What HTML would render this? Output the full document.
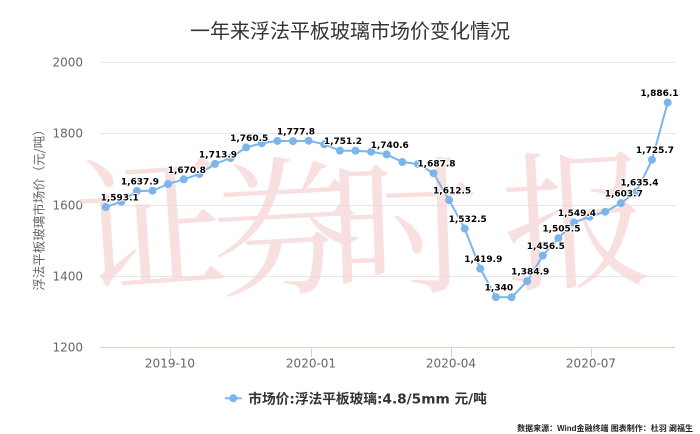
<!DOCTYPE html>
<html>
<head>
<meta charset="utf-8">
<style>
  html, body { margin:0; padding:0; background:#fff; }
  body { width:700px; height:434px; overflow:hidden; }
  svg { display:block; }
  .ax { font-family:"DejaVu Sans","Liberation Sans",sans-serif; font-size:12px; fill:#666; }
  .dl { font-family:"DejaVu Sans","Liberation Sans",sans-serif; font-size:9px; font-weight:bold; fill:#000; stroke:#fff; stroke-width:2px; stroke-linejoin:round; paint-order:stroke; text-anchor:middle; }
  .wm { font-family:"Noto Serif CJK SC","WenQuanYi Zen Hei",serif; font-size:150px; font-weight:normal; fill:#f8d6d6; text-anchor:middle; }
</style>
</head>
<body>
<svg width="700" height="434" viewBox="0 0 700 434" xmlns="http://www.w3.org/2000/svg">
  <rect x="0" y="0" width="700" height="434" fill="#fff"/>

  <!-- title -->
  <text x="350" y="38" text-anchor="middle" font-family="'Liberation Sans','Noto Sans CJK SC',sans-serif" font-size="20" fill="#333">一年来浮法平板玻璃市场价变化情况</text>

  <!-- gridlines -->
  <g stroke="#e6e6e6" stroke-width="1">
    <line x1="100" y1="62.5" x2="676" y2="62.5"/>
    <line x1="100" y1="133.5" x2="676" y2="133.5"/>
    <line x1="100" y1="205.5" x2="676" y2="205.5"/>
    <line x1="100" y1="276.5" x2="676" y2="276.5"/>
  </g>
  <!-- x axis -->
  <line x1="100" y1="347.5" x2="675" y2="347.5" stroke="#ccd6eb" stroke-width="1"/>
  <g stroke="#ccd6eb" stroke-width="1">
    <line x1="170.5" y1="347" x2="170.5" y2="357"/>
    <line x1="311.5" y1="347" x2="311.5" y2="357"/>
    <line x1="451.5" y1="347" x2="451.5" y2="357"/>
    <line x1="591.5" y1="347" x2="591.5" y2="357"/>
  </g>

  <!-- y labels -->
  <g class="ax" text-anchor="end">
    <text x="83" y="66.5">2000</text>
    <text x="83" y="137.5">1800</text>
    <text x="83" y="209.5">1600</text>
    <text x="83" y="280.5">1400</text>
    <text x="83" y="351.5">1200</text>
  </g>
  <!-- x labels -->
  <g class="ax" text-anchor="middle">
    <text x="170" y="367.7">2019-10</text>
    <text x="311" y="367.7">2020-01</text>
    <text x="451" y="367.7">2020-04</text>
    <text x="591" y="367.7">2020-07</text>
  </g>

  <!-- y axis title -->
  <text transform="translate(39,207) rotate(-90)" y="4.7" text-anchor="middle" font-family="'Noto Sans CJK SC',sans-serif" font-size="12.5" fill="#666">浮法平板玻璃市场价（元/吨）</text>

  <!-- watermark (under chart, multiply) -->
  <g opacity="0.75">
    <text class="wm" x="151" y="280" transform="rotate(-4 151 222)">证</text>
    <text class="wm" x="286" y="282" transform="rotate(-3 286 225)">券</text>
    <text class="wm" x="404" y="282" font-size="120" transform="rotate(-2 404 230)">时</text>
    <text class="wm" x="577" y="276" transform="rotate(-3 577 218)">报</text>
  </g>

  <!-- series -->
  <polyline fill="none" stroke="#7cb5ec" stroke-width="2" stroke-linejoin="round" stroke-linecap="round"
    points="105.7,206.96 121.3,201.69 136.9,191.0 152.5,190.7 168.1,184.0 183.8,179.28 199.4,174.0 215.0,163.92 230.6,158.0 246.2,147.32 261.8,143.3 277.4,140.9 293.0,141.16 308.6,140.7 324.2,144.3 339.9,150.63 355.5,150.7 371.1,151.7 386.7,154.41 402.3,162 417.9,164 433.5,173.22 449.1,200.05 464.7,228.55 480.3,268.66 495.9,297.12 511.6,297.3 527.2,281.13 542.8,255.62 558.4,238.17 574.0,222.53 589.6,216.7 605.2,211.7 620.8,203.18 636.4,191.89 652.0,159.72 667.7,102.58"/>
  <g fill="#7cb5ec">
    <circle cx="105.7" cy="206.96" r="4"/>
    <circle cx="121.3" cy="201.69" r="4"/>
    <circle cx="136.9" cy="191.0" r="4"/>
    <circle cx="152.5" cy="190.7" r="4"/>
    <circle cx="168.1" cy="184.0" r="4"/>
    <circle cx="183.8" cy="179.28" r="4"/>
    <circle cx="199.4" cy="174.0" r="4"/>
    <circle cx="215.0" cy="163.92" r="4"/>
    <circle cx="230.6" cy="158.0" r="4"/>
    <circle cx="246.2" cy="147.32" r="4"/>
    <circle cx="261.8" cy="143.3" r="4"/>
    <circle cx="277.4" cy="140.9" r="4"/>
    <circle cx="293.0" cy="141.16" r="4"/>
    <circle cx="308.6" cy="140.7" r="4"/>
    <circle cx="324.2" cy="144.3" r="4"/>
    <circle cx="339.9" cy="150.63" r="4"/>
    <circle cx="355.5" cy="150.7" r="4"/>
    <circle cx="371.1" cy="151.7" r="4"/>
    <circle cx="386.7" cy="154.41" r="4"/>
    <circle cx="402.3" cy="162" r="4"/>
    <circle cx="417.9" cy="164" r="4"/>
    <circle cx="433.5" cy="173.22" r="4"/>
    <circle cx="449.1" cy="200.05" r="4"/>
    <circle cx="464.7" cy="228.55" r="4"/>
    <circle cx="480.3" cy="268.66" r="4"/>
    <circle cx="495.9" cy="297.12" r="4"/>
    <circle cx="511.6" cy="297.3" r="4"/>
    <circle cx="527.2" cy="281.13" r="4"/>
    <circle cx="542.8" cy="255.62" r="4"/>
    <circle cx="558.4" cy="238.17" r="4"/>
    <circle cx="574.0" cy="222.53" r="4"/>
    <circle cx="589.6" cy="216.7" r="4"/>
    <circle cx="605.2" cy="211.7" r="4"/>
    <circle cx="620.8" cy="203.18" r="4"/>
    <circle cx="636.4" cy="191.89" r="4"/>
    <circle cx="652.0" cy="159.72" r="4"/>
    <circle cx="667.7" cy="102.58" r="4"/>
  </g>

  <!-- data labels -->
  <g class="dl">
    <text x="119.7" y="200.5">1,593.1</text>
    <text x="139.9" y="184.5">1,637.9</text>
    <text x="186.8" y="172.8">1,670.8</text>
    <text x="218" y="157.4">1,713.9</text>
    <text x="249.2" y="140.8">1,760.5</text>
    <text x="296" y="134.7">1,777.8</text>
    <text x="342.9" y="144.1">1,751.2</text>
    <text x="389.7" y="147.9">1,740.6</text>
    <text x="436.5" y="166.7">1,687.8</text>
    <text x="452.1" y="193.5">1,612.5</text>
    <text x="467.7" y="222">1,532.5</text>
    <text x="483.3" y="262.2">1,419.9</text>
    <text x="498.9" y="290.6">1,340</text>
    <text x="530.2" y="274.6">1,384.9</text>
    <text x="545.8" y="249.1">1,456.5</text>
    <text x="561.4" y="231.7">1,505.5</text>
    <text x="577" y="216">1,549.4</text>
    <text x="623.8" y="196.7">1,603.7</text>
    <text x="639.4" y="185.4">1,635.4</text>
    <text x="655" y="153.2">1,725.7</text>
    <text x="659.5" y="96.1">1,886.1</text>
  </g>

  <!-- legend -->
  <line x1="225" y1="398.3" x2="241.7" y2="398.3" stroke="#7cb5ec" stroke-width="2"/>
  <circle cx="233.3" cy="398.3" r="4" fill="#7cb5ec"/>
  <text x="248.3" y="403.3" font-family="'DejaVu Sans','Noto Sans CJK SC',sans-serif" font-size="13.7" font-weight="bold" fill="#333">市场价:浮法平板玻璃:4.8/5mm 元/吨</text>

  <!-- footer -->
  <text x="693" y="431" text-anchor="end" font-family="'Liberation Sans','Noto Sans CJK SC',sans-serif" font-size="8" font-weight="bold" fill="#222">数据来源：Wind金融终端 图表制作：杜羽 阚福生</text>
</svg>
</body>
</html>
